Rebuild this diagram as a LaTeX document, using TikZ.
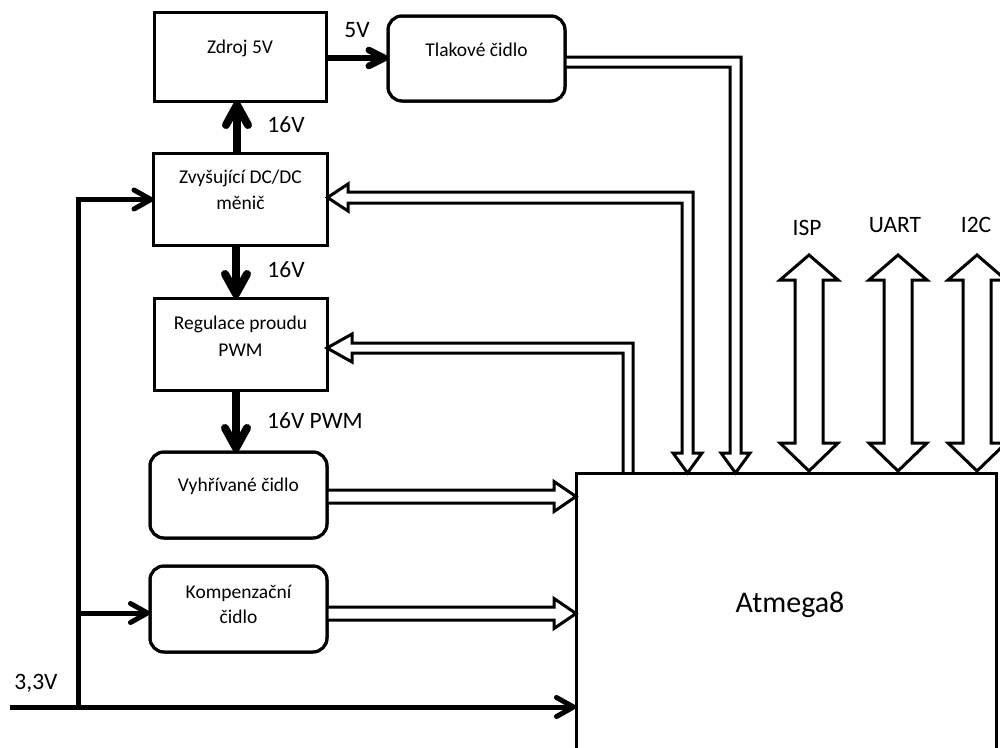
\documentclass[tikz,border=0pt]{standalone}
\usepackage{fontspec}
\setmainfont{Carlito}
\usetikzlibrary{arrows.meta,calc}
\begin{document}
\begin{tikzpicture}[x=1pt,y=-1pt,
 box/.style={draw,line width=3pt,inner sep=0pt,outer sep=0pt},
 rbox/.style={box,rounded corners=14pt},
 btxt/.style={font=\fontsize{19.5}{23}\selectfont,inner sep=0pt,anchor=base},
 lbl/.style={font=\fontsize{23.5}{28}\selectfont,inner sep=0pt,anchor=base},
 hollow/.style={draw,fill=white,line width=3pt,line join=miter},
 pwr/.style={line width=8pt,-{Straight Barb[round,length=20pt,width=22pt]}},
 feed/.style={line width=6.5pt,-{Straight Barb[round,length=16pt,width=16pt]}},
 supply/.style={line width=5pt,-{Straight Barb[round,length=17pt,width=19pt]}},
]
\useasboundingbox (0,0) rectangle (1000,747);

% boxes (shapes only)
\node[box,minimum width=172pt,minimum height=89pt] (zdroj) at (240,56.5) {};
\node[rbox,minimum width=177pt,minimum height=85pt] (tlak) at (476.5,58.5) {};
\node[box,minimum width=174pt,minimum height=92pt] (zvys) at (240.5,199.5) {};
\node[box,minimum width=173pt,minimum height=92pt] (reg) at (240.5,344) {};
\node[rbox,minimum width=177pt,minimum height=86pt] (vyh) at (238.5,495) {};
\node[rbox,minimum width=177pt,minimum height=86pt] (komp) at (238.5,609) {};
\node[box,minimum width=420pt,minimum height=330pt] (atm) at (786,638) {};

% hollow signal arrows
\draw[hollow] (tlak.east |- 0,57) -- (741,57) -- (741,453) -- (750,453) -- (735.5,473) -- (721,453) -- (730,453) -- (730,67) -- (tlak.east |- 0,67);
\draw[hollow] (zvys.east |- 0,197.5) -- (348,184) -- (348,192) -- (693,192) -- (693,453) -- (702,453) -- (687.5,473) -- (673,453) -- (682,453) -- (682,203) -- (348,203) -- (348,211) -- cycle;
\draw[hollow] (633,473) -- (633,343) -- (352,343) -- (352,334) -- (reg.east |- 0,348) -- (352,362) -- (352,353) -- (623,353) -- (623,473);
\draw[hollow] (vyh.east |- 0,490) -- (554,490) -- (554,481.5) -- (atm.west |- 0,496.5) -- (554,511.5) -- (554,503) -- (vyh.east |- 0,503);
\draw[hollow] (komp.east |- 0,607) -- (554,607) -- (554,598.5) -- (atm.west |- 0,613.5) -- (554,628.5) -- (554,620) -- (komp.east |- 0,620);

% bus arrows
\foreach \c in {809,898,977}{
 \draw[hollow] (\c,255) -- ({\c+29},280) -- ({\c+14},280) -- ({\c+14},443) -- ({\c+29},443) -- (\c,471) -- ({\c-29},443) -- ({\c-14},443) -- ({\c-14},280) -- ({\c-29},280) -- cycle;
}

% redraw boxes on top
\node[box,minimum width=172pt,minimum height=89pt] at (zdroj.center) {};
\node[rbox,minimum width=177pt,minimum height=85pt] at (tlak.center) {};
\node[box,minimum width=174pt,minimum height=92pt] at (zvys.center) {};
\node[box,minimum width=173pt,minimum height=92pt] at (reg.center) {};
\node[rbox,minimum width=177pt,minimum height=86pt] at (vyh.center) {};
\node[rbox,minimum width=177pt,minimum height=86pt] at (komp.center) {};
\node[box,minimum width=420pt,minimum height=330pt] at (atm.center) {};

% power arrows
\draw[feed] (zdroj.east |- 0,58) -- (tlak.west |- 0,58);
\draw[pwr] (zvys.north -| 237,0) -- (zdroj.south -| 237,0);
\draw[pwr] (zvys.south -| 236,0) -- (reg.north -| 236,0);
\draw[pwr] (reg.south -| 236,0) -- (vyh.north -| 236,0);

% 3,3V supply
\coordinate (in) at (10,707);
\coordinate (jn) at (78,707);
\coordinate (kb) at (78,613);
\draw[supply] (in) -- (atm.west |- in);
\draw[supply] (jn) |- (zvys.west);
\draw[supply] (kb) -- (komp.west |- kb);

% texts
\node[btxt] (t1) at (240,53) {Zdroj 5V};
\node[btxt] (t2) at (476.5,56) {Tlakové čidlo};
\node[btxt] (t3) at (240.5,183) {Zvyšující DC/DC};
\node[btxt] (t4) at (240.5,209) {měnič};
\node[btxt] (t5) at (240.5,329) {Regulace proudu};
\node[btxt] (t6) at (240.5,356) {PWM};
\node[btxt] (t7) at (238.5,491) {Vyhřívané čidlo};
\node[btxt] (t8) at (238.5,598) {Kompenzační};
\node[btxt] (t9) at (238.5,623) {čidlo};
\node[font=\fontsize{30}{36}\selectfont,inner sep=0pt,anchor=base] (t10) at (790,612) {Atmega8};

\node[lbl] (l1) at (357,37.5) {5V};
\node[lbl] (l2) at (286,132.5) {16V};
\node[lbl] (l3) at (286,277.5) {16V};
\node[lbl] (l4) at (315,428.5) {16V PWM};
\node[lbl] (l5) at (36,689.5) {3,3V};
\node[lbl] (l6) at (807,235) {ISP};
\node[lbl] (l7) at (895,232) {UART};
\node[lbl] (l8) at (976,232) {I2C};
\end{tikzpicture}
\end{document}
